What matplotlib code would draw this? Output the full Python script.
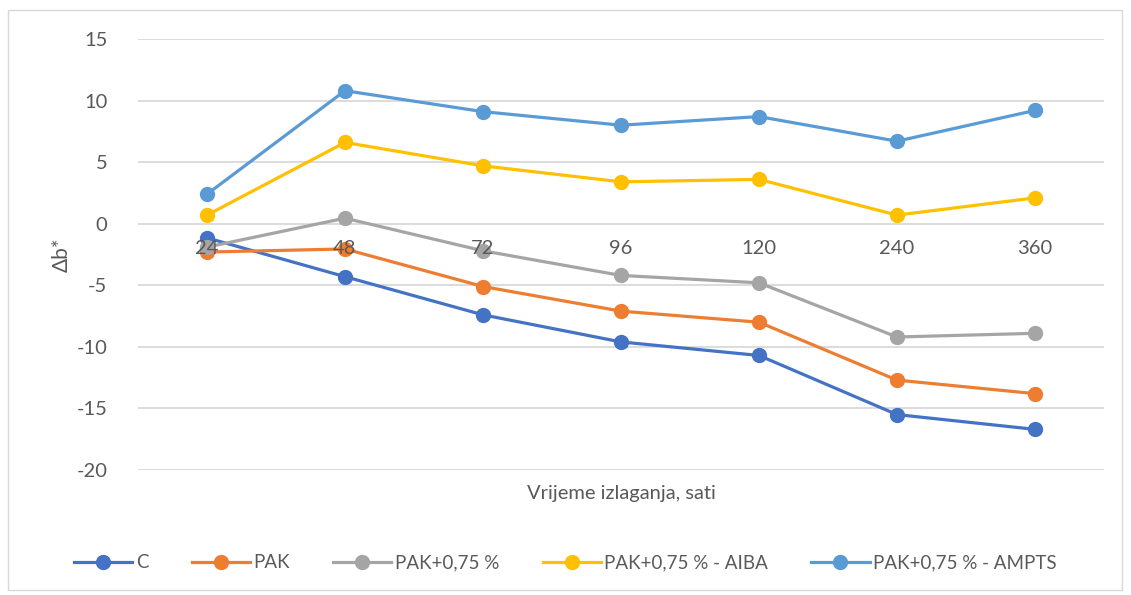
import matplotlib.pyplot as plt
from matplotlib.patches import Rectangle

# data
hours = ['24', '48', '72', '96', '120', '240', '360']
c_vals = [-1.15, -4.3, -7.4, -9.6, -10.7, -15.5, -16.7]
pak_vals = [-2.3, -2.05, -5.1, -7.1, -8.0, -12.7, -13.8]
pak075_vals = [-1.9, 0.45, -2.2, -4.2, -4.8, -9.2, -8.9]
aiba_vals = [0.7, 6.6, 4.7, 3.4, 3.6, 0.7, 2.1]
ampts_vals = [2.4, 10.8, 9.1, 8.0, 8.7, 6.7, 9.2]

series_names = ['C', 'PAK', 'PAK+0,75 %', 'PAK+0,75 % - AIBA', 'PAK+0,75 % - AMPTS']
series_vals = [c_vals, pak_vals, pak075_vals, aiba_vals, ampts_vals]
colors = ['#4472C4', '#ED7D31', '#A5A5A5', '#FFC000', '#5B9BD5']

plt.rcParams['font.family'] = ['Lato', 'DejaVu Sans']
plt.rcParams['axes.unicode_minus'] = False

fig = plt.figure(figsize=(11.31, 5.95), dpi=100)
ax = fig.add_axes([138 / 1131, 1 - 470 / 595, 966 / 1131, 431 / 595])

x = list(range(len(hours)))
for name, vals, col in zip(series_names, series_vals, colors):
    ax.plot(x, vals, color=col, linewidth=2.3, marker='o', markersize=10,
            label=name, zorder=3)

ax.set_xlim(-0.5, len(hours) - 0.5)
ax.set_ylim(-20, 15)
ax.set_yticks(range(-20, 16, 5))
ax.set_xticks(x)
ax.set_xticklabels(hours)

ax.grid(axis='y', color='#D9D9D9', linewidth=1.3)
ax.set_axisbelow(True)
# x labels sit on the zero line and are drawn over the lines
ax.xaxis.set_zorder(5)
for side in ['top', 'right', 'left']:
    ax.spines[side].set_visible(False)
ax.spines['bottom'].set_position(('data', 0))
ax.spines['bottom'].set_visible(False)

ax.tick_params(axis='both', length=0, labelsize=14.5, labelcolor='#595959')
ax.tick_params(axis='y', pad=22)
ax.tick_params(axis='x', pad=12)

fig.text(62 / 1131, 1 - 255 / 595, 'Δb*', rotation=90, ha='center', va='center',
         fontsize=15, color='#595959')
fig.text(621 / 1131, 1 - 493 / 595, 'Vrijeme izlaganja, sati', ha='center', va='center',
         fontsize=14.5, color='#595959')

leg = fig.legend(loc='center', bbox_to_anchor=(0.5, 1 - 563 / 595), ncol=5,
                 frameon=False, fontsize=13.5, handlelength=3.1, columnspacing=2.3,
                 handletextpad=0.2)
for t in leg.get_texts():
    t.set_color('#595959')

fig.patches.append(Rectangle((8 / 1131, 5 / 595), 1114 / 1131, 580 / 595,
                             transform=fig.transFigure, fill=False,
                             edgecolor='#D9D9D9', linewidth=1))

fig.savefig('out.png', dpi=100)
